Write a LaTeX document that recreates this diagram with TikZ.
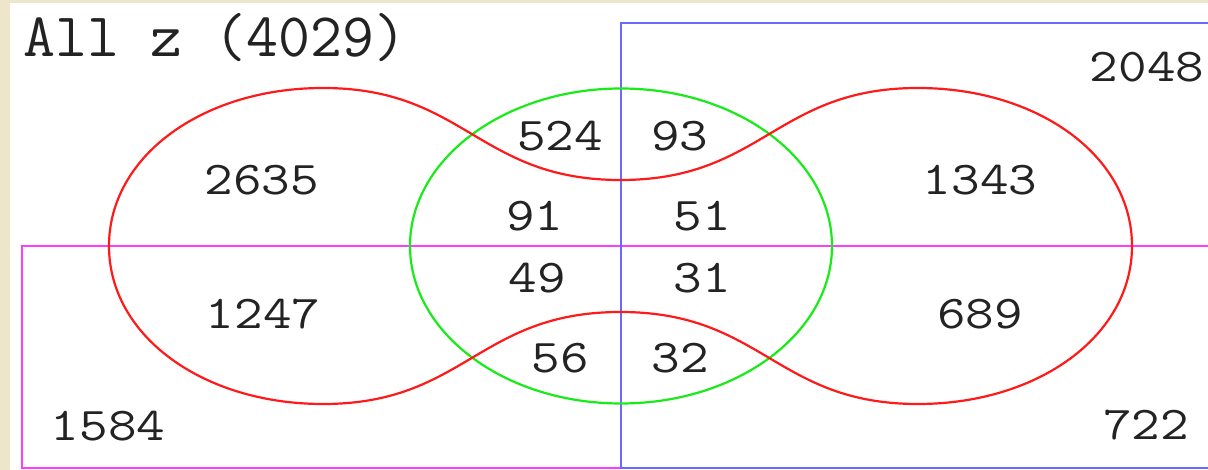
\documentclass[tikz,border=0pt]{standalone}
\definecolor{bgbeige}{RGB}{238,230,203}
\definecolor{vred}{RGB}{255,25,25}
\definecolor{vgreen}{RGB}{25,235,25}
\definecolor{vblue}{RGB}{105,105,255}
\definecolor{vmag}{RGB}{255,60,255}
\definecolor{ink}{RGB}{35,35,35}
\begin{document}
\begin{tikzpicture}[x=1pt,y=-1pt,
  num/.style={font=\fontsize{47}{50}\selectfont\ttfamily, text=ink, inner sep=0pt, xscale=1.18},
  titletext/.style={font=\fontsize{62}{64}\selectfont\ttfamily, text=ink, inner sep=0pt, anchor=base west},
  redline/.style={draw=vred, line width=2.2pt},
  greenline/.style={draw=vgreen, line width=2.2pt},
  boxline/.style={line width=2.4pt}]
\useasboundingbox (0,0) rectangle (1208,470);
\fill[bgbeige] (0,0) rectangle (1208,470);
\fill[white] (10,3) rectangle (1208,470);
\begin{scope}
  \clip (10,3) rectangle (1208,470);
  \draw[boxline, vmag] (22,246) rectangle (1240,468);
  \draw[boxline, vblue] (621,23) rectangle (1240,468);
\end{scope}
\draw[greenline] (621,246) ellipse [x radius=211, y radius=157.5];
\draw[redline]
  (109,246) .. controls (109,156) and (203,88) .. (323,88)
  .. controls (465,88) and (478.5,180) .. (620.5,180)
  .. controls (762.5,180) and (776,88) .. (918,88)
  .. controls (1038,88) and (1132,156) .. (1132,246)
  .. controls (1132,336) and (1038,404) .. (918,404)
  .. controls (776,404) and (762.5,312) .. (620.5,312)
  .. controls (478.5,312) and (465,404) .. (323,404)
  .. controls (203,404) and (109,336) .. (109,246) -- cycle;
\node[titletext] (title) at (23,57) {All z (4029)};
\node[num] (n2635) at (262,180) {2635};
\node[num] (n1343) at (980,180) {1343};
\node[num] (n524) at (560,136) {524};
\node[num] (n93) at (680,136) {93};
\node[num] (n91) at (535,216) {91};
\node[num] (n51) at (702,216) {51};
\node[num] (n49) at (537,278) {49};
\node[num] (n31) at (702,278) {31};
\node[num] (n56) at (560,358) {56};
\node[num] (n32) at (680,358) {32};
\node[num] (n1247) at (263,314) {1247};
\node[num] (n689) at (980,314) {689};
\node[num] (n1584) at (108,426) {1584};
\node[num] (n2048) at (1147,67) {2048};
\node[num] (n722) at (1146,425) {722};
\end{tikzpicture}
\end{document}
